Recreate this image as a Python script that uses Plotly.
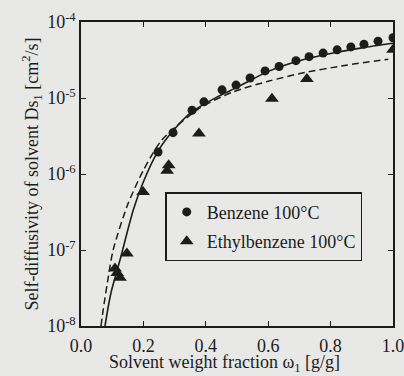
import plotly.graph_objects as go

# Measured data
benzene_x = [0.247, 0.295, 0.356, 0.394, 0.452, 0.497, 0.542, 0.590, 0.635, 0.689,
             0.731, 0.776, 0.821, 0.865, 0.907, 0.952, 1.0]
benzene_y = [1.95e-6, 3.5e-6, 6.9e-6, 8.9e-6, 1.28e-5, 1.48e-5, 1.83e-5, 2.27e-5, 2.6e-5, 3.1e-5,
             3.5e-5, 3.9e-5, 4.3e-5, 4.7e-5, 5.1e-5, 5.6e-5, 6.2e-5]

ethyl_x = [0.109, 0.116, 0.125, 0.147, 0.199, 0.276, 0.281, 0.378, 0.612, 0.724, 1.0]
ethyl_y = [5.7e-8, 5.0e-8, 4.3e-8, 9.0e-8, 5.8e-7, 1.1e-6, 1.3e-6, 3.4e-6, 9.8e-6, 1.78e-5, 4.3e-5]

# Model curves
solid_x = [0.077, 0.088, 0.098, 0.125, 0.168, 0.20, 0.247, 0.295, 0.356, 0.44, 0.5, 0.6,
           0.7, 0.808, 0.9, 1.0]
solid_y = [1.0e-8, 1.86e-8, 2.95e-8, 7.4e-8, 3.4e-7, 7.9e-7, 2.0e-6, 3.7e-6, 6.6e-6, 1.05e-5,
           1.38e-5, 2.24e-5, 3.1e-5, 3.9e-5, 4.57e-5, 5.25e-5]

dash_x = [0.064, 0.071, 0.085, 0.103, 0.15, 0.2, 0.259, 0.381, 0.487, 0.6, 0.702, 0.85, 0.985]
dash_y = [1.0e-8, 1.62e-8, 3.8e-8, 1.0e-7, 4.0e-7, 1.12e-6, 2.8e-6, 7.4e-6, 1.2e-5, 1.66e-5,
          2.1e-5, 2.7e-5, 3.24e-5]

y_tickvals = [1e-8, 1e-7, 1e-6, 1e-5, 1e-4]
y_ticktext = ["10<sup>-8</sup>", "10<sup>-7</sup>", "10<sup>-6</sup>", "10<sup>-5</sup>", "10<sup>-4</sup>"]
x_tickvals = [0.0, 0.2, 0.4, 0.6, 0.8, 1.0]
x_title = "Solvent weight fraction ω<sub>1</sub> [g/g]"
y_title = "Self-diffusivity of solvent Ds<sub>1</sub> [cm<sup>2</sup>/s]"

ink = "#1c1c1c"
bg = "#e8e8e6"
font = dict(family="Liberation Serif, Times New Roman, serif", size=18, color=ink)

fig = go.Figure()
fig.add_trace(go.Scatter(x=solid_x, y=solid_y, mode="lines",
                         line=dict(color=ink, width=1.6, shape="spline", smoothing=0.7),
                         showlegend=False, hoverinfo="skip"))
fig.add_trace(go.Scatter(x=dash_x, y=dash_y, mode="lines",
                         line=dict(color=ink, width=1.5, dash="7px,4px", shape="spline", smoothing=0.7),
                         showlegend=False, hoverinfo="skip"))
fig.add_trace(go.Scatter(x=benzene_x, y=benzene_y, mode="markers", name="Benzene 100°C",
                         legendgroup="a",
                         marker=dict(symbol="circle", size=9, color=ink)))
fig.add_trace(go.Scatter(x=ethyl_x, y=ethyl_y, mode="markers", name="Ethylbenzene 100°C",
                         legendgroup="b",
                         marker=dict(symbol="triangle-up", size=12, color=ink)))

axis_common = dict(showline=True, linecolor=ink, linewidth=1.5, mirror="allticks",
                   ticks="inside", ticklen=5, tickwidth=1.3, tickcolor=ink,
                   showgrid=False, zeroline=False, tickfont=font, automargin=False,
                   ticklabeloverflow="allow")

fig.update_xaxes(range=[0, 1], tickvals=x_tickvals, tickformat=".1f", ticklabelstandoff=3,
                 **axis_common)
fig.update_yaxes(type="log", range=[-8, -4], tickvals=y_tickvals, ticktext=y_ticktext,
                 title=dict(text=y_title, font=font, standoff=4),
                 **axis_common)

fig.add_annotation(text=x_title, xref="paper", yref="paper", x=0.46, y=0,
                   xanchor="center", yanchor="top", yshift=-24, showarrow=False, font=font)

fig.update_layout(
    width=404, height=376,
    margin=dict(l=81, r=11, t=22, b=50),
    paper_bgcolor=bg, plot_bgcolor=bg,
    font=font,
    legend=dict(x=0.27, y=0.44, xanchor="left", yanchor="top",
                bgcolor=bg, bordercolor=ink, borderwidth=1.5,
                font=font, tracegroupgap=3, traceorder="grouped"),
)

fig.write_html("out.html")
